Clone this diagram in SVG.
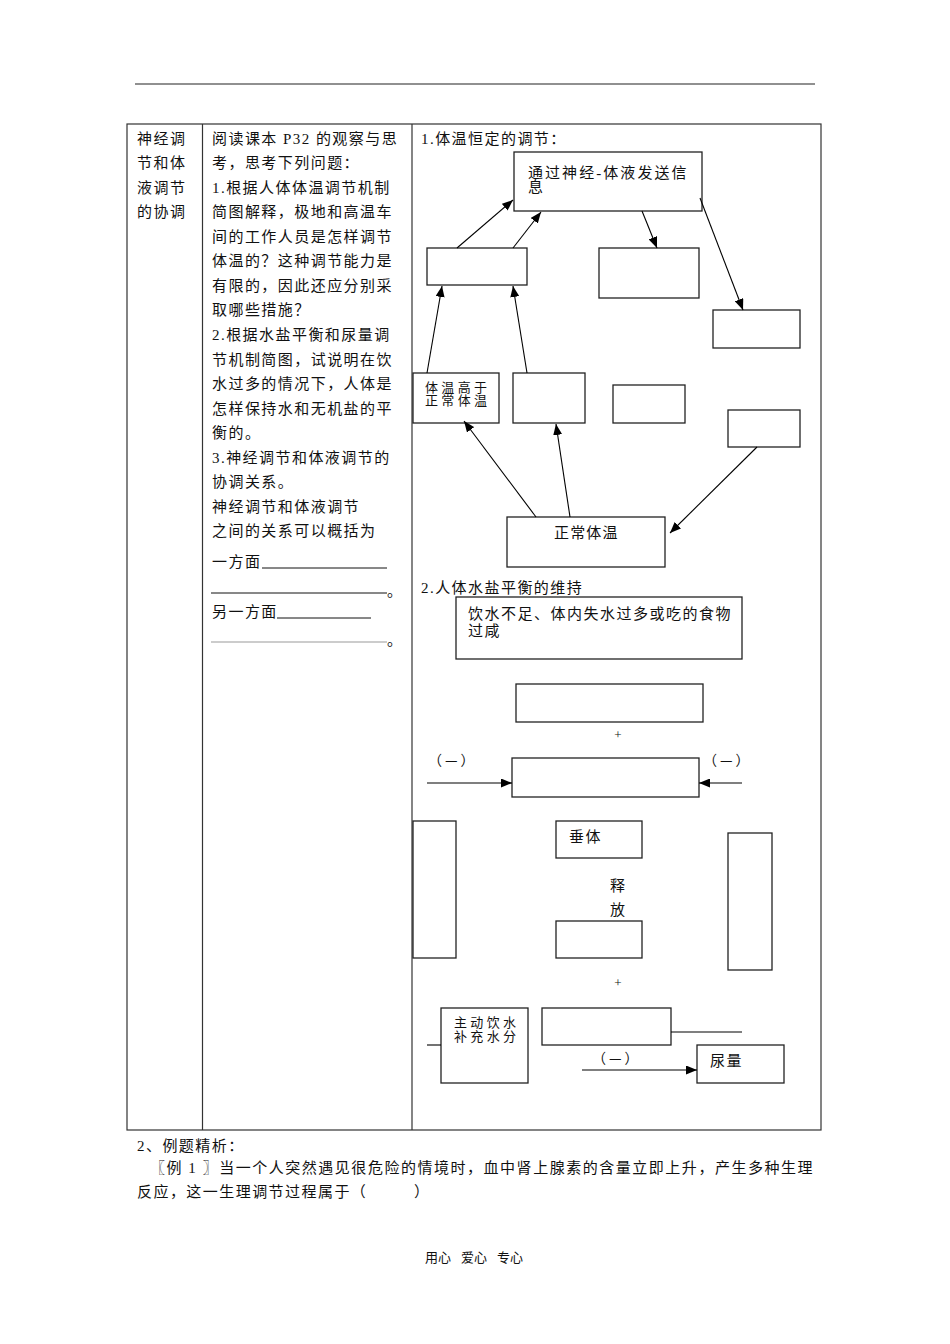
<svg xmlns="http://www.w3.org/2000/svg" width="950" height="1344" viewBox="0 0 950 1344">
<style>
.t{font-family:"Liberation Serif","Noto Sans CJK SC",serif;font-size:15px;letter-spacing:1.45px;fill:#111}
.s{font-size:13px;letter-spacing:0}
.p{font-family:"Noto Sans CJK SC",sans-serif;font-size:14px;letter-spacing:3px;fill:#111}
.box{fill:#fff;stroke:#222;stroke-width:1.3}
.conn{stroke:#000;stroke-width:1.1;fill:none}
.arr{marker-end:url(#ah)}
.tbl{stroke:#333;stroke-width:1.2;fill:none}
.ul{stroke:#111;stroke-width:1}
</style>
<defs>
<marker id="ah" markerUnits="userSpaceOnUse" markerWidth="11" markerHeight="9" refX="11" refY="4.5" orient="auto">
<path d="M0,0 L11,4.5 L0,9 z" fill="#000"/>
</marker>
</defs>
<rect width="950" height="1344" fill="#fff"/>
<line x1="135" y1="84" x2="815" y2="84" stroke="#222" stroke-width="1.2"/>
<g id="table">
<rect class="tbl" x="127" y="124" width="694" height="1006"/>
<line class="tbl" x1="202.5" y1="124" x2="202.5" y2="1130"/>
<line class="tbl" x1="412" y1="124" x2="412" y2="1130"/>
</g>
<g id="col1">
<text class="t" x="137" y="143.5">神经调</text>
<text class="t" x="137" y="168">节和体</text>
<text class="t" x="137" y="192.5">液调节</text>
<text class="t" x="137" y="217">的协调</text>
</g>
<g id="col2">
<text class="t" x="212" y="143.5">阅读课本 P32 的观察与思</text>
<text class="t" x="212" y="168">考，思考下列问题：</text>
<text class="t" x="212" y="192.6">1.根据人体体温调节机制</text>
<text class="t" x="212" y="217.2">简图解释，极地和高温车</text>
<text class="t" x="212" y="241.7">间的工作人员是怎样调节</text>
<text class="t" x="212" y="266.3">体温的？这种调节能力是</text>
<text class="t" x="212" y="290.8">有限的，因此还应分别采</text>
<text class="t" x="212" y="315.4">取哪些措施？</text>
<text class="t" x="212" y="339.9">2.根据水盐平衡和尿量调</text>
<text class="t" x="212" y="364.5">节机制简图，试说明在饮</text>
<text class="t" x="212" y="389">水过多的情况下，人体是</text>
<text class="t" x="212" y="413.6">怎样保持水和无机盐的平</text>
<text class="t" x="212" y="438.1">衡的。</text>
<text class="t" x="212" y="462.7">3.神经调节和体液调节的</text>
<text class="t" x="212" y="487.2">协调关系。</text>
<text class="t" x="212" y="511.8">神经调节和体液调节</text>
<text class="t" x="212" y="536.3">之间的关系可以概括为</text>
<text class="t" x="212" y="567">一方面</text>
<line class="ul" x1="262" y1="568" x2="387" y2="568"/>
<line class="ul" x1="211" y1="593" x2="387" y2="593"/>
<text class="t" x="387" y="596">。</text>
<text class="t" x="212" y="617">另一方面</text>
<line class="ul" x1="277" y1="618" x2="371" y2="618"/>
<line x1="211" y1="642" x2="387" y2="642" stroke="#999" stroke-width="1"/>
<text class="t" x="387" y="645">。</text>
</g>
<g id="sec1">
<text class="t" x="421" y="143.5">1.体温恒定的调节：</text>
<g id="n_signal">
<rect class="box" x="514" y="152" width="188" height="59"/>
<text class="t" x="528" y="177.5" textLength="160" lengthAdjust="spacing">通过神经-体液发送信</text>
<text class="t" x="528" y="191.5">息</text>
</g>
<g id="n_b"><rect class="box" x="427" y="248" width="100" height="37"/></g>
<g id="n_c"><rect class="box" x="599" y="248" width="100" height="50"/></g>
<g id="n_d"><rect class="box" x="713" y="310" width="87" height="38"/></g>
<g id="n_high">
<rect class="box" x="413" y="373" width="86" height="50"/>
<text class="t s" x="425" y="392" textLength="62" lengthAdjust="spacing">体温高于</text>
<text class="t s" x="425" y="405" textLength="62" lengthAdjust="spacing">正常体温</text>
</g>
<g id="n_e"><rect class="box" x="513" y="373" width="72" height="50"/></g>
<g id="n_f"><rect class="box" x="613" y="385" width="72" height="38"/></g>
<g id="n_g"><rect class="box" x="728" y="410" width="72" height="37"/></g>
<g id="n_normal">
<rect class="box" x="507" y="517" width="158" height="50"/>
<text class="t" x="554" y="537.5" textLength="65" lengthAdjust="spacing">正常体温</text>
</g>
</g>
<g id="sec2">
<text class="t" x="421" y="592.5">2.人体水盐平衡的维持</text>
<g id="n_cause">
<rect class="box" x="456" y="597" width="286" height="62"/>
<text class="t" x="468" y="618.5" textLength="264" lengthAdjust="spacing">饮水不足、体内失水过多或吃的食物</text>
<text class="t" x="468" y="635.5">过咸</text>
</g>
<g id="n_i"><rect class="box" x="516" y="684" width="187" height="38"/></g>
<text class="t s" x="618" y="739" text-anchor="middle">+</text>
<text class="p" x="428" y="765">（—）</text>
<text class="p" x="703" y="765">（—）</text>
<g id="n_j"><rect class="box" x="512" y="758" width="187" height="39"/></g>
<g id="n_k"><rect class="box" x="413" y="821" width="43" height="137"/></g>
<g id="n_pit">
<rect class="box" x="556" y="821" width="86" height="37"/>
<text class="t" x="569" y="841.5">垂体</text>
</g>
<text class="t" x="610" y="890.5">释</text>
<text class="t" x="610" y="914.5">放</text>
<g id="n_l"><rect class="box" x="556" y="921" width="86" height="37"/></g>
<g id="n_m"><rect class="box" x="728" y="833" width="44" height="137"/></g>
<text class="t s" x="618" y="987" text-anchor="middle">+</text>
<g id="n_drink">
<rect class="box" x="441" y="1008" width="87" height="75"/>
<text class="t s" x="454" y="1027" textLength="62" lengthAdjust="spacing">主动饮水</text>
<text class="t s" x="454" y="1041" textLength="62" lengthAdjust="spacing">补充水分</text>
</g>
<g id="n_n"><rect class="box" x="542" y="1008" width="129" height="37"/></g>
<text class="p" x="592" y="1063">（—）</text>
<g id="n_urine">
<rect class="box" x="697" y="1045" width="87" height="38"/>
<text class="t" x="710" y="1065.5">尿量</text>
</g>
</g>
<g id="connectors">
<line class="conn arr" x1="457" y1="248" x2="513" y2="200"/>
<line class="conn arr" x1="513" y1="248" x2="541" y2="212"/>
<line class="conn arr" x1="642" y1="211" x2="657" y2="248"/>
<line class="conn arr" x1="700" y1="198" x2="743" y2="310"/>
<line class="conn arr" x1="427" y1="373" x2="442" y2="286"/>
<line class="conn arr" x1="527" y1="373" x2="513" y2="286"/>
<line class="conn arr" x1="536" y1="517" x2="464" y2="421"/>
<line class="conn arr" x1="570" y1="517" x2="556" y2="424"/>
<line class="conn arr" x1="757" y1="447" x2="670" y2="533"/>
<line class="conn arr" x1="427" y1="783" x2="512" y2="783"/>
<line class="conn arr" x1="742" y1="783" x2="699" y2="783"/>
<line class="conn" x1="427" y1="1045" x2="441" y2="1045"/>
<line class="conn" x1="671" y1="1032" x2="742" y2="1032"/>
<line class="conn arr" x1="582" y1="1070" x2="697" y2="1070"/>
</g>
<g id="bottom">
<text class="t" x="137" y="1150.5">2、例题精析：</text>
<text class="t" x="150" y="1172.5" textLength="664" lengthAdjust="spacing">〖例 1 〗当一个人突然遇见很危险的情境时，血中肾上腺素的含量立即上升，产生多种生理</text>
<text class="t" x="137" y="1197">反应，这一生理调节过程属于（<tspan x="414">）</tspan></text>
<text class="t s" x="425" y="1262"><tspan x="425">用心</tspan><tspan x="461">爱心</tspan><tspan x="497">专心</tspan></text>
</g>
</svg>
